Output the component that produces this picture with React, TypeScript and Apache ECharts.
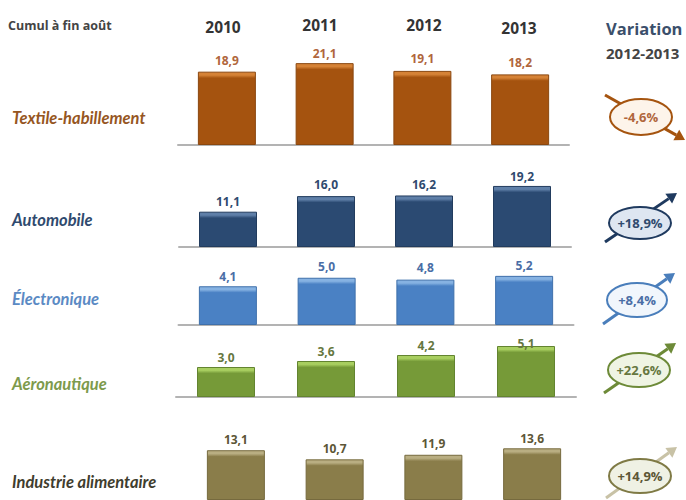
import React, { useEffect, useRef } from "react";
import * as echarts from "echarts";

// Cumulative figures to end of August, by sector
const years = ["2010", "2011", "2012", "2013"];
const textile = [18.9, 21.1, 19.1, 18.2];
const automobile = [11.1, 16.0, 16.2, 19.2];
const electronique = [4.1, 5.0, 4.8, 5.2];
const aeronautique = [3.0, 3.6, 4.2, 5.1];
const alimentaire = [13.1, 10.7, 11.9, 13.6];
const sectorNames = ["Textile-habillement", "Automobile", "Électronique", "Aéronautique", "Industrie alimentaire"];
const variations = ["-4,6%", "+18,9%", "+8,4%", "+22,6%", "+14,9%"];

const WIDTH = 686;
const HEIGHT = 500;
const STRIP = 3;

type Row = {
  name: string; values: number[]; left: number; width: number; base: number; scale: number;
  max: number; body: string; strip: string; edge: string; ink: string; lift: number[];
  nameY: number; nameColor: string; showAxis: boolean;
  badge: { cx: number; cy: number; rx: number; ry: number; fill: string; stroke: string; text: string; from: number[]; to: number[]; arrow: string };
};

const rows: Row[] = [
  {
    name: sectorNames[0], values: textile, left: 178, width: 391, base: 145, scale: 3.88, max: 26,
    body: "#a5530f", strip: "#d58236", edge: "#8a470f", ink: "#b0663c", lift: [11, 10, 12, 12],
    nameY: 118, nameColor: "#96561f", showAxis: true,
    badge: { cx: 641, cy: 117, rx: 31, ry: 18, fill: "#fdf4ea", stroke: "#a5540f", text: variations[0], from: [605, 95], to: [685, 140], arrow: "#a5540f" },
  },
  {
    name: sectorNames[1], values: automobile, left: 179, width: 392, base: 247, scale: 3.18, max: 24,
    body: "#2b4a72", strip: "#5f7fa8", edge: "#223c5e", ink: "#2f4a6e", lift: [10, 12, 11, 9],
    nameY: 220, nameColor: "#2f4a6e", showAxis: true,
    badge: { cx: 640, cy: 223, rx: 31, ry: 16, fill: "#dee6f1", stroke: "#1f3a5f", text: variations[1], from: [605, 242], to: [677, 193], arrow: "#1f3a5f" },
  },
  {
    name: sectorNames[2], values: electronique, left: 178.5, width: 395, base: 325, scale: 9.45, max: 7,
    body: "#4a81c4", strip: "#86b2e2", edge: "#3f70ab", ink: "#4a6ea6", lift: [10, 11, 12, 10],
    nameY: 299, nameColor: "#5b8ac4", showAxis: true,
    badge: { cx: 637, cy: 300, rx: 30, ry: 17, fill: "#f1f6fc", stroke: "#4a7ebb", text: variations[2], from: [603, 324], to: [675, 273], arrow: "#4a7ebb" },
  },
  {
    name: sectorNames[3], values: aeronautique, left: 176, width: 400, base: 397, scale: 10, max: 6,
    body: "#769a38", strip: "#a8ce60", edge: "#638430", ink: "#66773f", lift: [10, 10, 10, 3],
    nameY: 384, nameColor: "#7d9a4c", showAxis: true,
    badge: { cx: 639, cy: 370, rx: 31, ry: 17, fill: "#eff4e3", stroke: "#6d8a38", text: variations[3], from: [604, 393], to: [676, 343], arrow: "#6d8a38" },
  },
  {
    name: sectorNames[4], values: alimentaire, left: 186.5, width: 395, base: 500, scale: 3.8, max: 18,
    body: "#8a7d4a", strip: "#b9ae82", edge: "#766a3e", ink: "#5c5636", lift: [11, 11, 11, 10],
    nameY: 482, nameColor: "#3f3d2e", showAxis: false,
    badge: { cx: 640, cy: 476, rx: 31, ry: 17, fill: "#eff1e4", stroke: "#7f7a45", text: variations[4], from: [606, 498], to: [677, 447], arrow: "#c8c2a6" },
  },
];

const yearLabels = [
  { x: 223, y: 27 },
  { x: 320, y: 25 },
  { x: 424, y: 25 },
  { x: 519, y: 28 },
];

const FONT = '"Open Sans", sans-serif';
const NAME_FONT = 'Lato, sans-serif';

const formatValue = (v: number) => v.toFixed(1).replace(".", ",");

// Line with a triangular head, pointing from `from` to `to`
function arrowShapes(from: number[], to: number[], color: string) {
  const dx = to[0] - from[0];
  const dy = to[1] - from[1];
  const len = Math.hypot(dx, dy);
  const ux = dx / len;
  const uy = dy / len;
  const neck = [to[0] - ux * 10, to[1] - uy * 10];
  return [
    {
      type: "line",
      shape: { x1: from[0], y1: from[1], x2: neck[0], y2: neck[1] },
      style: { stroke: color, lineWidth: 3 },
    },
    {
      type: "polygon",
      shape: {
        points: [
          to,
          [neck[0] - uy * 6, neck[1] + ux * 6],
          [neck[0] + uy * 6, neck[1] - ux * 6],
        ],
      },
      style: { fill: color },
    },
  ];
}

function textShape(text: string, x: number, y: number, size: number, fill: string, extra: object = {}) {
  return {
    type: "text",
    x,
    y,
    style: { text, fontSize: size, fontWeight: "bold", fontFamily: FONT, fill, verticalAlign: "middle", ...extra },
  };
}

function buildOption() {
  const grid = rows.map((r) => {
    const height = r.max * r.scale;
    return { left: r.left, width: r.width, top: r.base - height, height };
  });
  const xAxis = rows.map((r, i) => ({
    type: "category",
    gridIndex: i,
    data: years,
    axisLine: { show: r.showAxis, lineStyle: { color: "#b3b3b3", width: 2 } },
    axisTick: { show: false },
    axisLabel: { show: false },
  }));
  const yAxis = rows.map((r, i) => ({
    type: "value",
    gridIndex: i,
    min: 0,
    max: r.max,
    show: false,
    splitLine: { show: false },
  }));
  const series = rows.map((r, i) => ({
    type: "bar",
    name: r.name,
    xAxisIndex: i,
    yAxisIndex: i,
    barWidth: 58,
    silent: true,
    data: r.values.map((v, j) => {
      const stop = Math.min(0.3, STRIP / (v * r.scale));
      return {
        value: v,
        itemStyle: {
          borderColor: r.edge,
          borderWidth: 1,
          color: new echarts.graphic.LinearGradient(0, 0, 0, 1, [
            { offset: 0, color: r.strip },
            { offset: stop, color: r.strip },
            { offset: Math.min(0.5, stop * 2), color: r.body },
            { offset: 1, color: r.body },
          ]),
        },
        label: {
          show: true,
          position: "top",
          distance: r.lift[j] - 6,
          formatter: formatValue(v),
          fontSize: 12,
          fontWeight: "bold",
          fontFamily: FONT,
          color: r.ink,
        },
      };
    }),
  }));

  const elements: any[] = [
    textShape("Cumul à fin août", 8, 25, 12.5, "#444444"),
    ...years.map((y, i) =>
      textShape(y, yearLabels[i].x, yearLabels[i].y, 15.5, "#333333", { align: "center" })
    ),
    textShape("Variation", 606, 28, 16.5, "#3b4f6b"),
    textShape("2012-2013", 606, 53, 15, "#444444"),
  ];
  rows.forEach((r) => {
    const b = r.badge;
    elements.push({
      type: "text",
      x: 12,
      y: r.nameY,
      style: {
        text: r.name,
        fontSize: 16.5,
        fontWeight: "bold",
        fontStyle: "italic",
        fontFamily: NAME_FONT,
        fill: r.nameColor,
        verticalAlign: "middle",
      },
    });
    elements.push(...arrowShapes(b.from, b.to, b.arrow));
    elements.push({
      type: "ellipse",
      shape: { cx: b.cx, cy: b.cy, rx: b.rx, ry: b.ry },
      style: { fill: b.fill, stroke: b.stroke, lineWidth: 2 },
    });
    elements.push(textShape(b.text, b.cx, b.cy, 13, r.ink, { align: "center" }));
  });

  return {
    animation: false,
    backgroundColor: "#ffffff",
    grid,
    xAxis,
    yAxis,
    series,
    graphic: { elements },
  };
}

export default function App() {
  const ref = useRef<HTMLDivElement>(null);
  useEffect(() => {
    const chart = echarts.init(ref.current!, undefined, { renderer: "svg" });
    chart.setOption(buildOption() as any);
    return () => chart.dispose();
  }, []);
  return (
    <div
      ref={ref}
      style={{ position: "absolute", left: 0, top: 0, width: WIDTH, height: HEIGHT, overflow: "hidden" }}
    />
  );
}
